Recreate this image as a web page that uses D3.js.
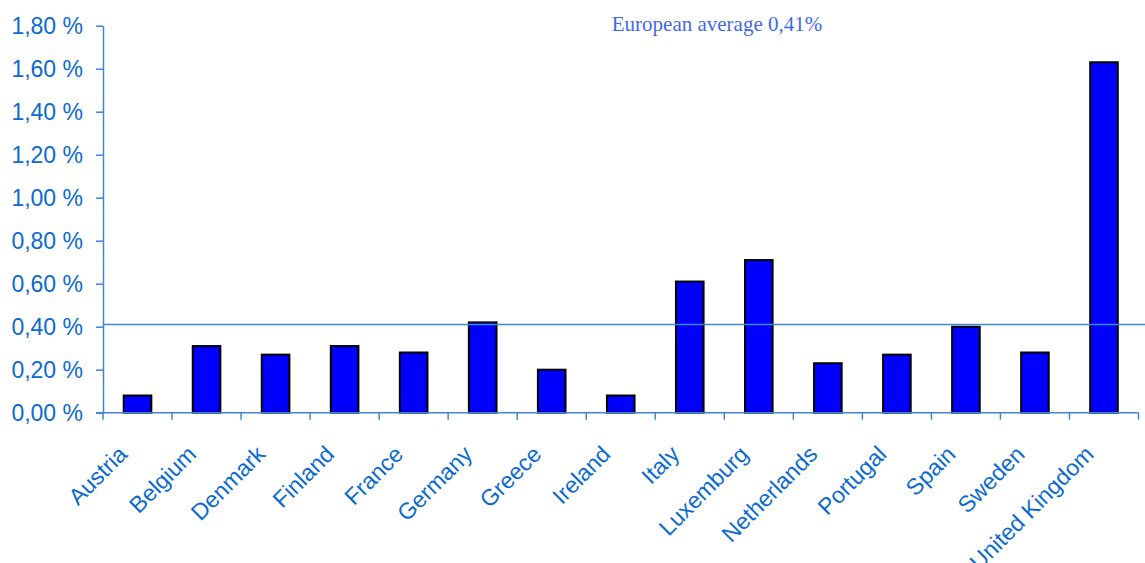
<!DOCTYPE html>
<html>
<head>
<meta charset="utf-8">
<script src="https://cdn.jsdelivr.net/npm/d3@7"></script>
<style>
  html, body { margin: 0; padding: 0; background: #ffffff; }
  svg { display: block; }
</style>
</head>
<body>
<script>
// Share of each country, in percent
const countries = ["Austria", "Belgium", "Denmark", "Finland", "France", "Germany", "Greece",
  "Ireland", "Italy", "Luxemburg", "Netherlands", "Portugal", "Spain", "Sweden", "United Kingdom"];
const shares = [0.08, 0.31, 0.27, 0.31, 0.28, 0.42, 0.20, 0.08, 0.61, 0.71, 0.23, 0.27, 0.40, 0.28, 1.63];
const europeanAverage = 0.41;
const yTicks = [0, 0.2, 0.4, 0.6, 0.8, 1.0, 1.2, 1.4, 1.6, 1.8];
const averageLabel = "European average 0,41%";

const W = 1145, H = 563;
const plotLeft = 103, plotRight = 1138.5, plotTop = 25.7, plotBottom = 412.7;

const axisBlue = "#3f86d6";
const labelBlue = "#0a6ad2";

const svg = d3.select("body").append("svg")
  .attr("width", W).attr("height", H);

const x = d3.scaleBand().domain(countries).range([plotLeft, plotRight])
  .paddingInner(0.6).paddingOuter(0.3);
const xCells = d3.scaleBand().domain(countries).range([plotLeft, plotRight]).padding(0);
const y = d3.scaleLinear().domain([0, 1.8]).range([plotBottom, plotTop]);

const fmt = v => d3.format(".2f")(v).replace(".", ",") + " %";

// y axis
const yAxis = svg.append("g")
  .attr("transform", `translate(${plotLeft},0)`)
  .call(d3.axisLeft(y).tickValues(yTicks).tickFormat(fmt).tickSize(7).tickSizeOuter(0).tickPadding(13));
yAxis.select(".domain").attr("stroke", axisBlue).attr("stroke-width", 1.5);
yAxis.selectAll(".tick line").attr("stroke", axisBlue).attr("stroke-width", 1.5);
yAxis.selectAll(".tick text")
  .attr("fill", labelBlue)
  .style("font-family", "'Liberation Sans', Arial, sans-serif")
  .style("font-size", "23px")
  .attr("dy", "0.36em");

// bars
svg.append("g").selectAll("rect")
  .data(countries)
  .join("rect")
  .attr("x", d => x(d))
  .attr("width", x.bandwidth())
  .attr("y", (d, i) => y(shares[i]))
  .attr("height", (d, i) => y(0) - y(shares[i]))
  .attr("fill", "#0000ff")
  .attr("stroke", "#000000")
  .attr("stroke-width", 2);

// x axis line and category separators
const xAxisG = svg.append("g");
xAxisG.append("line")
  .attr("x1", plotLeft - 7).attr("x2", plotRight)
  .attr("y1", plotBottom).attr("y2", plotBottom)
  .attr("stroke", axisBlue).attr("stroke-width", 1.5);
const bounds = countries.map(c => xCells(c)).concat([plotRight]);
xAxisG.selectAll("line.sep")
  .data(bounds)
  .join("line")
  .attr("class", "sep")
  .attr("x1", d => d).attr("x2", d => d)
  .attr("y1", plotBottom).attr("y2", plotBottom + 7)
  .attr("stroke", axisBlue).attr("stroke-width", 1.5);

// rotated category labels
xAxisG.selectAll("text")
  .data(countries)
  .join("text")
  .attr("transform", d => `translate(${xCells(d) + xCells.bandwidth() / 2 - 9},${plotBottom + 43}) rotate(-45)`)
  .attr("text-anchor", "end")
  .attr("fill", labelBlue)
  .style("font-family", "'Liberation Sans', Arial, sans-serif")
  .style("font-size", "23px")
  .text(d => d);

// European average line
svg.append("line")
  .attr("x1", plotLeft).attr("x2", W)
  .attr("y1", y(europeanAverage)).attr("y2", y(europeanAverage))
  .attr("stroke", axisBlue).attr("stroke-width", 1.5);

svg.append("text")
  .attr("x", 717).attr("y", 31)
  .attr("text-anchor", "middle")
  .attr("fill", "#4169e8")
  .style("font-family", "'Liberation Serif', 'Times New Roman', serif")
  .style("font-size", "21px")
  .text(averageLabel);
</script>
</body>
</html>
